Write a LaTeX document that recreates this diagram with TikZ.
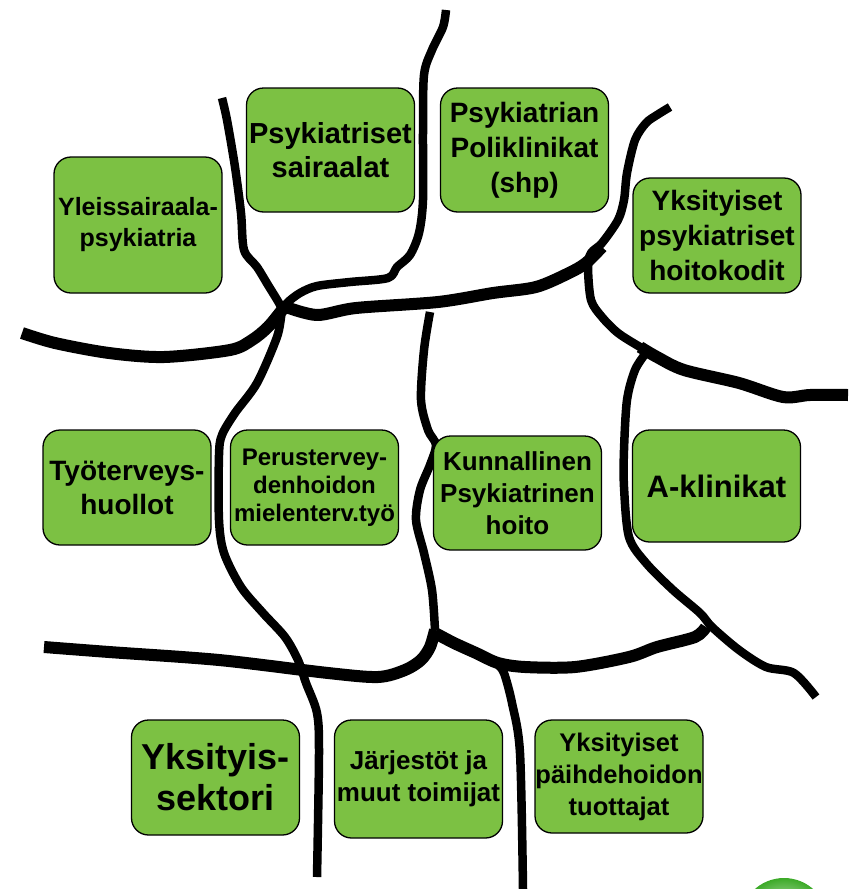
\documentclass[tikz,border=0pt]{standalone}
\usepackage{fontspec}
\setmainfont{Liberation Sans}
\usepackage{tikz}
\definecolor{vihrea}{RGB}{124,193,67}
\definecolor{logovihrea}{RGB}{60,170,40}
\tikzset{
  lohko/.style={draw=black, line width=1.3pt, fill=vihrea, rounded corners=17pt,
    align=center, inner sep=0pt, minimum width=168pt},
  raja/.style={line width=8.5pt, line join=round},
  paksu/.style={line width=12pt, line join=round}
}
\newcommand{\koko}[2]{\fontsize{#1}{#2}\selectfont\bfseries}
\begin{document}
\begin{tikzpicture}[x=1pt, y=-1pt]
    \useasboundingbox (0,0) rectangle (854,889);
    \shade[inner color=white, outer color=logovihrea] (784,922) circle (44);
    \draw[raja] plot[smooth, tension=0.5] coordinates {(446,10) (443,27) (432,50) (424,75) (423,133) (423,200) (419,233) (410,255) (397,267) (388,278) (350,282) (317,286) (300,293) (287,303) (282,312) (277,337) (257,383) (235,413) (222,435) (219,455) (219,520) (224,553) (241,587) (263,613) (285,637) (298,660) (306,683) (317,713) (319,753) (317,877)};
    \draw[raja] plot[smooth, tension=0.5] coordinates {(222,98) (227,120) (235,167) (241,213) (244,250) (257,267) (268,285) (279,303) (285,315)};
    \draw[paksu] plot[smooth, tension=0.5] coordinates {(22,333) (55,343) (109,353) (164,357) (230,350) (252,340) (268,327) (282,310)};
    \draw[paksu] plot[smooth, tension=0.5] coordinates {(286,307) (317,315) (356,308) (438,302) (493,293) (536,287) (569,273) (586,263) (602,247)};
    \draw[raja] plot[smooth, tension=0.5] coordinates {(670,107) (657,115) (646,123) (635,140) (627,173) (624,200) (618,220) (602,243) (591,253) (588,267) (591,300) (602,317) (618,333) (640,347) (657,357)};
    \draw[paksu] plot[smooth, tension=0.5] coordinates {(640,347) (657,357) (684,370) (739,383) (783,397) (810,395) (848,395)};
    \draw[raja] plot[smooth, tension=0.5] coordinates {(646,353) (635,370) (627,400) (624,450) (624,487) (629,537) (646,563) (673,590) (700,613) (712,627) (739,650) (766,667) (794,673) (816,697)};
    \draw[raja] plot[smooth, tension=0.5] coordinates {(430,312) (424,350) (421,400) (428,430) (436,445) (430,465) (420,490) (416,520) (424,553) (432,590) (435,630)};
    \draw[paksu] plot[smooth, tension=0.5] coordinates {(44,647) (109,652) (219,660) (328,673) (378,677) (405,670) (421,660) (430,647) (435,630)};
    \draw[paksu] plot[smooth, tension=0.5] coordinates {(435,633) (454,643) (476,653) (498,663) (525,667) (575,667) (629,657) (657,647) (695,637) (706,627)};
    \draw[raja] plot[smooth, tension=0.5] coordinates {(498,665) (504,673) (512,703) (520,753) (523,889)};
    \node[lohko, minimum height=136pt, font=\koko{25}{31}] (yleis) at (138,225) {Yleissairaala-\\psykiatria};
    \node[lohko, minimum height=124pt, font=\koko{29}{34}] (psysair) at (330.5,150) {Psykiatriset\\sairaalat};
    \node[lohko, minimum height=124pt, font=\koko{28}{35}] (polikl) at (524.5,150) {Psykiatrian\\Poliklinikat\\(shp)};
    \node[lohko, minimum height=115pt, font=\koko{28}{35}] (hoitok) at (717,235.5) {Yksityiset\\psykiatriset\\hoitokodit};
    \node[lohko, minimum height=115pt, font=\koko{28}{34}] (tyoter) at (127,487.5) {Työterveys-\\huollot};
    \node[lohko, minimum height=115pt, font=\koko{24}{28}] (perus) at (314.5,487.5) {Perustervey-\\denhoidon\\mielenterv.työ};
    \node[lohko, minimum height=114pt, font=\koko{26}{32}] (kunnal) at (517.5,493) {Kunnallinen\\Psykiatrinen\\hoito};
    \node[lohko, minimum height=112pt, font=\koko{31}{36}] (aklin) at (716.5,486) {A-klinikat};
    \node[lohko, minimum height=115pt, font=\koko{36}{41}] (yksit) at (215.5,777.5) {Yksityis-\\sektori};
    \node[lohko, minimum height=118pt, font=\koko{26}{32}] (jarj) at (418.5,779) {Järjestöt ja\\muut toimijat};
    \node[lohko, minimum height=113pt, font=\koko{25.5}{32}] (paihde) at (619,776.5) {Yksityiset\\päihdehoidon\\tuottajat};
\end{tikzpicture}
\end{document}
